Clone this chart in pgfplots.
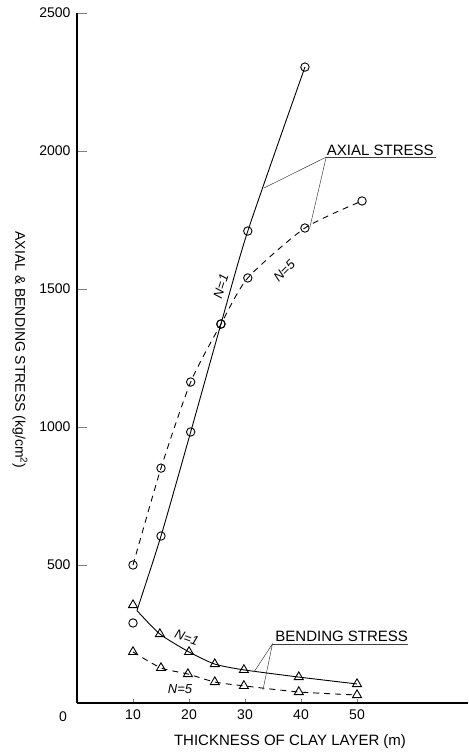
\documentclass[border=0pt]{standalone}
\usepackage{fontspec}
\setmainfont{Liberation Sans}
\usepackage{pgfplots}
\pgfplotsset{compat=1.18}

% Axial stress, N=1 (solid curve starts at the junction with the bending curve)
\pgfplotstableread{
x y
10.7 335
15.0 605
20.3 982
25.7 1373
30.5 1710
40.7 2304
}\axialone
% Axial stress, N=5
\pgfplotstableread{
x y
10.0 500
15.0 851
20.3 1163
25.7 1373
30.5 1540
40.7 1721
50.9 1819
}\axialfive
% Bending stress, N=1
\pgfplotstableread{
x y
10.7 335
14.8 250
20.0 185
24.6 141
29.8 120
39.6 94
50.0 69
}\bendone
% Bending stress, N=5
\pgfplotstableread{
x y
10.0 185
15.0 127
19.8 105
24.6 76
29.8 62
39.6 40
50.0 29
}\bendfive

\begin{document}
\begin{tikzpicture}
\begin{axis}[
  at={(0,0)}, anchor=south west,
  scale only axis,
  width=390.9pt, height=690pt,
  xmin=0, xmax=69.8, ymin=0, ymax=2500,
  axis lines*=left,
  axis line style={line width=1.3pt},
  tick align=inside,
  xtick={10,20,30,40,50},
  ytick={500,1000,1500,2000,2500},
  x tick style={line width=0.6pt, /pgfplots/major tick length=4pt},
  y tick style={line width=0.6pt, /pgfplots/major tick length=10pt},
  /pgf/number format/assume math mode=true,
  /pgf/number format/1000 sep={},
  tick label style={font=\fontsize{14}{16}\selectfont},
  xticklabel style={yshift=-3pt},
  yticklabel style={xshift=-3pt},
  clip=false,
]
% axial stress curves
\addplot[black, line width=0.9pt, smooth, tension=0.4] table {\axialone};
\addplot[black, only marks, mark=o, mark size=4.2pt, mark options={line width=0.9pt, fill=white}]
  table[row sep=\\] {x y\\ 10.0 290\\ 15.0 605\\ 20.3 982\\ 25.7 1373\\ 30.5 1710\\ 40.7 2304\\};
\addplot[black, line width=0.9pt, smooth, tension=0.4, dash pattern=on 6pt off 5pt,
  mark=o, mark size=4.2pt, mark options={solid, line width=0.9pt, fill=white}] table {\axialfive};
% bending stress curves
\addplot[black, line width=0.9pt, smooth, tension=0.4] table {\bendone};
\addplot[black, only marks, mark=triangle, mark size=5.2pt, mark options={line width=0.9pt, fill=white}]
  table[row sep=\\] {x y\\ 10.0 355\\ 14.8 250\\ 20.0 185\\ 24.6 141\\ 29.8 120\\ 39.6 94\\ 50.0 69\\};
\addplot[black, line width=0.9pt, smooth, tension=0.4, dash pattern=on 6pt off 5pt,
  mark=triangle, mark size=5.2pt, mark options={solid, line width=0.9pt, fill=white}] table {\bendfive};

% origin label
\node[font=\fontsize{14}{16}\selectfont] at (axis cs:-2.5,-51) {0};

% curve labels
\node[font=\fontsize{13}{15}\selectfont\itshape, rotate=73] at (axis cs:25.7,1510) {N=1};
\node[font=\fontsize{13}{15}\selectfont\itshape, rotate=45] at (axis cs:37.0,1565) {N=5};
\node[font=\fontsize{13}{15}\selectfont\itshape, rotate=-20] at (axis cs:19.6,236) {N=1};
\node[font=\fontsize{13}{15}\selectfont\itshape] at (axis cs:18.4,52) {N=5};

% callouts
\draw[black!75, line width=0.5pt] (axis cs:33.4,1866) -- (axis cs:44.5,1978) -- (axis cs:41.6,1725);
\draw[black!75, line width=0.5pt] (axis cs:44.5,1978) -- (axis cs:64.1,1978);
\node[anchor=base west, inner sep=0pt, font=\fontsize{15}{17}\selectfont]
  at (axis cs:44.6,1985) {AXIAL STRESS};
\draw[black!75, line width=0.5pt] (axis cs:31.6,112) -- (axis cs:34.9,214) -- (axis cs:33.2,47);
\draw[black!75, line width=0.5pt] (axis cs:34.9,214) -- (axis cs:59.1,214);
\node[anchor=base west, inner sep=0pt, font=\fontsize{15}{17}\selectfont]
  at (axis cs:35.4,222) {BENDING STRESS};
\end{axis}

% axis titles
\node[rotate=-90, font=\fontsize{14}{16}\selectfont] at (-57pt,353pt)
  {AXIAL \& BENDING STRESS (kg/cm\textsuperscript{2})};
\node[font=\fontsize{15}{17}\selectfont] at (213pt,-39pt) {THICKNESS OF CLAY LAYER (m)};

\pgfresetboundingbox
\useasboundingbox (-77pt,-51pt) rectangle (391pt,703pt);
\end{tikzpicture}
\end{document}
